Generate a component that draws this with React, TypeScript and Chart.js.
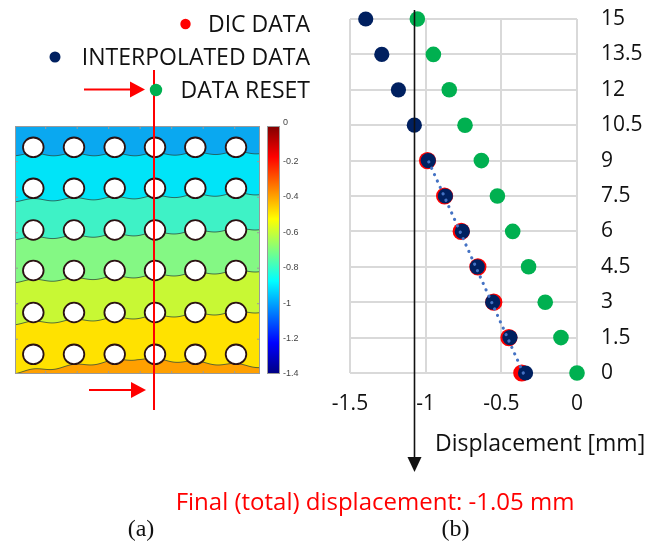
import React, { useEffect, useRef } from "react";
import { Chart, registerables } from "chart.js";

Chart.register(...registerables);

// ---------- data ----------
const depthLevels = [0, 1.5, 3, 4.5, 6, 7.5, 9, 10.5, 12, 13.5, 15];
const dicLevels = [0, 1.5, 3, 4.5, 6, 7.5, 9];
const dicDisplacement = [-0.365, -0.45, -0.55, -0.655, -0.765, -0.875, -0.988];
const interpolatedDisplacement = [-0.34, -0.443, -0.557, -0.659, -0.758, -0.87, -0.983, -1.075, -1.18, -1.29, -1.396];
const resetDisplacement = [0, -0.106, -0.21, -0.32, -0.425, -0.526, -0.632, -0.74, -0.844, -0.949, -1.055];
const trendLevels = [0, 9.1];
const trendDisplacement = [-0.355, -0.99];
const finalArrowX = -1.075;
const xMin = -1.5;
const xMax = 0;
const xStep = 0.5;
const yMin = 0;
const yMax = 15;
const yStep = 1.5;

const legendLabels = ["DIC DATA", "INTERPOLATED DATA", "DATA RESET"];
const legendColors = ["#ff0000", "#002060", "#00b050"];
const xAxisTitle = "Displacement [mm]";
const finalText = "Final (total) displacement: -1.05 mm";
const panelLabels = ["(a)", "(b)"];

const colorbarLabels = ["0", "-0.2", "-0.4", "-0.6", "-0.8", "-1", "-1.2", "-1.4"];
const contourBandColors = ["#0aa8f0", "#00e4f8", "#3ef2c6", "#84f884", "#c8f834", "#ffe200", "#ffa000"];
// [left, middle, right] y of each contour boundary in the image panel
const contourBoundaries = [
  [153, 153, 151],
  [199, 196, 192],
  [237, 233, 227],
  [280, 275, 269],
  [322, 316, 310],
  [371, 357, 365],
];
const holeCols = [33.3, 74, 114.7, 155, 195.3, 236];
const holeRows = [147.3, 188.3, 230, 270.5, 312.5, 354.3];

const toPoints = (xs: number[], ys: number[]) => xs.map((x, i) => ({ x, y: ys[i] }));

const FONT = "'Open Sans', 'Noto Sans', sans-serif";

// ---------- left panel / annotations ----------
function drawImagePanel(ctx: CanvasRenderingContext2D) {
  const L = 15, R = 260, T = 126, B = 374;
  ctx.save();
  ctx.beginPath();
  ctx.rect(L, T, R - L, B - T);
  ctx.clip();
  ctx.fillStyle = contourBandColors[0];
  ctx.fillRect(L, T, R - L, B - T);
  const pitch = 40.6;
  const boundaryY = (b: number[], x: number) => {
    const t = (x - L) / (R - L);
    const base = t < 0.5 ? b[0] + (b[1] - b[0]) * (t / 0.5) : b[1] + (b[2] - b[1]) * ((t - 0.5) / 0.5);
    return base + 2.8 * (0.5 - 0.5 * Math.cos((2 * Math.PI * (x - holeCols[0])) / pitch));
  };
  contourBoundaries.forEach((b, i) => {
    ctx.beginPath();
    ctx.moveTo(L, B + 2);
    for (let x = L; x <= R + 1; x += 1) ctx.lineTo(x, boundaryY(b, x));
    ctx.lineTo(R + 1, B + 2);
    ctx.closePath();
    ctx.fillStyle = contourBandColors[i + 1];
    ctx.fill();
  });
  ctx.strokeStyle = "rgba(40,70,60,0.75)";
  ctx.lineWidth = 1;
  contourBoundaries.forEach((b) => {
    ctx.beginPath();
    for (let x = L; x <= R + 1; x += 1) {
      const y = boundaryY(b, x);
      if (x === L) ctx.moveTo(x, y);
      else ctx.lineTo(x, y);
    }
    ctx.stroke();
  });
  // holes
  holeRows.forEach((cy) =>
    holeCols.forEach((cx) => {
      ctx.beginPath();
      ctx.ellipse(cx, cy, 10.3, 9.8, 0, 0, Math.PI * 2);
      ctx.fillStyle = "#ffffff";
      ctx.fill();
      ctx.strokeStyle = "#2a1212";
      ctx.lineWidth = 1.8;
      ctx.stroke();
    })
  );
  ctx.restore();
  // box + ticks
  ctx.strokeStyle = "#9a9a9a";
  ctx.lineWidth = 1;
  ctx.strokeRect(L + 0.5, T + 0.5, R - L - 1, B - T - 1);
  ctx.beginPath();
  for (let x = 45.7; x < R; x += 31.5) {
    ctx.moveTo(x, T);
    ctx.lineTo(x, T + 3);
    ctx.moveTo(x, B);
    ctx.lineTo(x, B - 3);
  }
  for (let y = 161.7; y < B - 5; y += 35.5) {
    ctx.moveTo(L, y);
    ctx.lineTo(L + 3, y);
    ctx.moveTo(R, y);
    ctx.lineTo(R - 3, y);
  }
  ctx.stroke();

  // colorbar
  const cL = 267, cR = 280;
  const g = ctx.createLinearGradient(0, T, 0, B);
  g.addColorStop(0, "#800000");
  g.addColorStop(0.125, "#ff0000");
  g.addColorStop(0.375, "#ffff00");
  g.addColorStop(0.625, "#00ffff");
  g.addColorStop(0.875, "#0000ff");
  g.addColorStop(1, "#000080");
  ctx.fillStyle = g;
  ctx.fillRect(cL, T, cR - cL, B - T);
  ctx.strokeStyle = "#9a9a9a";
  ctx.strokeRect(cL + 0.5, T + 0.5, cR - cL - 1, B - T - 1);
  ctx.fillStyle = "#444";
  ctx.font = "9px 'Liberation Sans', Arial, sans-serif";
  ctx.textAlign = "left";
  ctx.textBaseline = "middle";
  colorbarLabels.forEach((lab, i) => {
    const y = T + ((B - T) / (colorbarLabels.length - 1)) * i;
    ctx.fillText(lab, cR + 3, i === 0 ? y - 3 : y);
  });

  // red section line and arrows
  ctx.strokeStyle = "#ff0000";
  ctx.fillStyle = "#ff0000";
  ctx.lineWidth = 2;
  ctx.beginPath();
  ctx.moveTo(154, 70);
  ctx.lineTo(154, 410);
  ctx.stroke();
  const arrow = (x0: number, x1: number, y: number) => {
    ctx.beginPath();
    ctx.moveTo(x0, y);
    ctx.lineTo(x1 - 12, y);
    ctx.stroke();
    ctx.beginPath();
    ctx.moveTo(x1, y);
    ctx.lineTo(x1 - 15, y - 8);
    ctx.lineTo(x1 - 15, y + 8);
    ctx.closePath();
    ctx.fill();
  };
  arrow(84, 145, 89.5);
  arrow(89, 146, 390);
}

const decorPlugin = {
  id: "decor",
  beforeDraw(chart: any) {
    const ctx = chart.ctx as CanvasRenderingContext2D;
    ctx.save();
    ctx.fillStyle = "#ffffff";
    ctx.fillRect(0, 0, chart.width, chart.height);
    drawImagePanel(ctx);
    ctx.restore();
  },
  afterDraw(chart: any) {
    const ctx = chart.ctx as CanvasRenderingContext2D;
    const xs = chart.scales.x;
    ctx.save();
    // legend
    const legendY = [32, 65, 98];
    const dotX = [185.5, 55, 156];
    const dotR = [5.2, 5.5, 6.2];
    ctx.font = `23px ${FONT}`;
    ctx.textAlign = "right";
    ctx.textBaseline = "alphabetic";
    legendLabels.forEach((lab, i) => {
      ctx.fillStyle = "#111";
      ctx.fillText(lab, 310, legendY[i]);
      ctx.beginPath();
      ctx.arc(dotX[i], legendY[i] - 8, dotR[i], 0, Math.PI * 2);
      ctx.fillStyle = legendColors[i];
      ctx.fill();
    });
    // final displacement arrow
    const ax = Math.round(xs.getPixelForValue(finalArrowX)) + 0.5;
    ctx.strokeStyle = "#111";
    ctx.fillStyle = "#111";
    ctx.lineWidth = 1.6;
    ctx.beginPath();
    ctx.moveTo(ax, 10);
    ctx.lineTo(ax, 460);
    ctx.stroke();
    ctx.beginPath();
    ctx.moveTo(ax, 472);
    ctx.lineTo(ax - 7, 457);
    ctx.lineTo(ax + 7, 457);
    ctx.closePath();
    ctx.fill();
    // axis title
    ctx.font = `23px ${FONT}`;
    ctx.textAlign = "left";
    ctx.fillStyle = "#111";
    ctx.fillText(xAxisTitle, 435, 451);
    // final text
    ctx.font = `24px ${FONT}`;
    ctx.textAlign = "center";
    ctx.fillStyle = "#ff0000";
    ctx.fillText(finalText, 375, 510);
    // panel labels
    ctx.font = "24px 'Liberation Serif', 'Times New Roman', serif";
    ctx.fillStyle = "#111";
    ctx.fillText(panelLabels[0], 141, 536);
    ctx.fillText(panelLabels[1], 455.5, 536);
    ctx.restore();
  },
};

export default function App() {
  const ref = useRef<HTMLCanvasElement | null>(null);
  useEffect(() => {
    if (!ref.current) return;
    const chart = new Chart(ref.current, {
      type: "scatter",
      data: {
        datasets: [
          {
            label: "Trend",
            data: toPoints(trendDisplacement, trendLevels),
            showLine: true,
            borderColor: "#4472c4",
            borderWidth: 3.2,
            borderDash: [0.01, 7],
            borderCapStyle: "round",
            pointRadius: 0,
            clip: false,
          } as any,
          {
            label: legendLabels[1],
            data: toPoints(interpolatedDisplacement, depthLevels),
            backgroundColor: "#002060",
            borderWidth: 0,
            pointRadius: 7.6,
            clip: false,
          } as any,
          {
            label: legendLabels[0],
            data: toPoints(dicDisplacement, dicLevels),
            backgroundColor: "#ff0000",
            borderWidth: 0,
            pointRadius: 8.6,
            clip: false,
          } as any,
          {
            label: legendLabels[2],
            data: toPoints(resetDisplacement, depthLevels),
            backgroundColor: "#00b050",
            borderWidth: 0,
            pointRadius: 7.8,
            clip: false,
          } as any,
        ],
      },
      options: {
        responsive: false,
        animation: false,
        events: [],
        layout: { padding: { left: 350, top: 19, right: 0, bottom: 0 } },
        plugins: { legend: { display: false }, tooltip: { enabled: false } },
        scales: {
          x: {
            type: "linear",
            min: xMin,
            max: xMax,
            afterFit: (s: any) => {
              s.height = 170;
              s.paddingLeft = 0;
              s.paddingRight = 0;
            },
            ticks: {
              stepSize: xStep,
              padding: 18,
              color: "#111",
              font: { family: FONT, size: 21 },
              callback: (v: any) => String(v),
            },
            grid: { color: "#d9d9d9", lineWidth: 2, drawTicks: false },
            border: { display: false },
          },
          y: {
            type: "linear",
            position: "right",
            min: yMin,
            max: yMax,
            afterFit: (s: any) => {
              s.width = 87;
              s.paddingTop = 0;
              s.paddingBottom = 0;
            },
            ticks: {
              stepSize: yStep,
              padding: 24,
              color: "#111",
              font: { family: FONT, size: 21 },
              callback: (v: any) => String(v),
            },
            grid: { color: "#d9d9d9", lineWidth: 2, drawTicks: false },
            border: { display: false },
          },
        },
      } as any,
      plugins: [decorPlugin],
    });
    return () => chart.destroy();
  }, []);
  return (
    <div style={{ position: "fixed", left: 0, top: 0, width: 664, height: 543, background: "#fff" }}>
      <canvas ref={ref} width={664} height={543} style={{ width: 664, height: 543, display: "block" }} />
    </div>
  );
}
